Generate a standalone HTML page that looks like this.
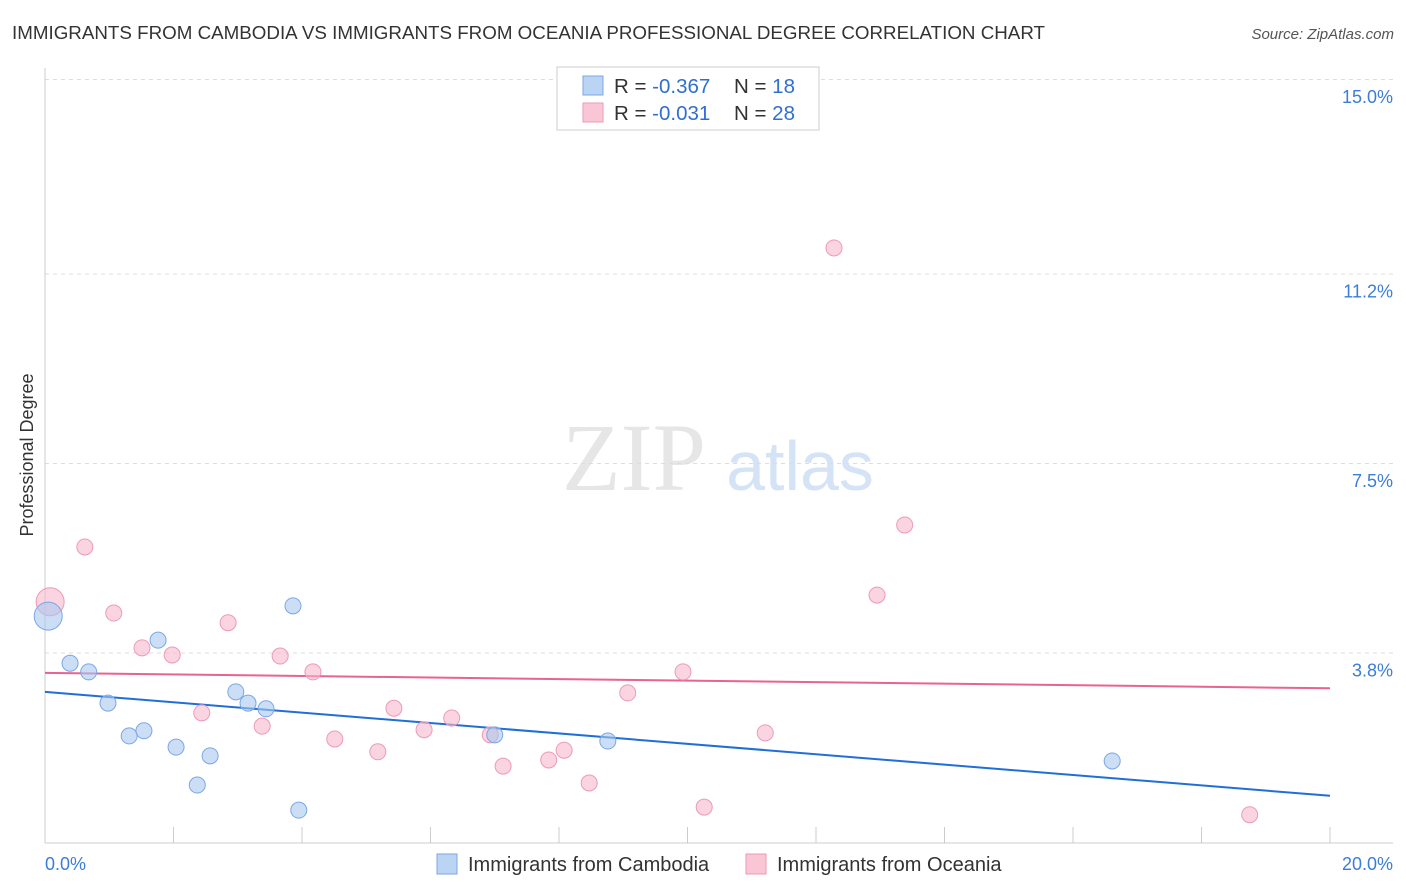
<!DOCTYPE html>
<html><head><meta charset="utf-8"><style>
body{margin:0;background:#fff;font-family:"Liberation Sans",sans-serif;}
svg{display:block}
</style></head><body>
<svg width="1406" height="892" xmlns="http://www.w3.org/2000/svg" id="chart">
<text x="12" y="39" font-size="18" fill="#333" textLength="1033" lengthAdjust="spacingAndGlyphs">IMMIGRANTS FROM CAMBODIA VS IMMIGRANTS FROM OCEANIA PROFESSIONAL DEGREE CORRELATION CHART</text>
<text x="1394" y="39" font-size="15" fill="#555" text-anchor="end" font-style="italic">Source: ZipAtlas.com</text>
<text x="634" y="490" font-size="96" fill="#e6e6e6" font-family="Liberation Serif,serif" text-anchor="middle">ZIP</text>
<text x="800" y="490" font-size="70" fill="#d4e3f6" text-anchor="middle">atlas</text>
<text transform="translate(33,455) rotate(-90)" font-size="18" fill="#333" text-anchor="middle">Professional Degree</text>
<g id="grid"></g><g id="axes"></g><g id="lines"></g><g id="points"></g>
<g>
<rect x="557" y="67" width="262" height="63" fill="#fff" stroke="#ccc"/>
<rect x="583" y="76" width="20" height="19" fill="#bcd4f4" stroke="#7aa7e6"/>
<rect x="583" y="103" width="20" height="19" fill="#f9c6d6" stroke="#ee9ab5"/>
<text x="614" y="93" font-size="20.5" fill="#333">R = <tspan fill="#2f6fd0">-0.367</tspan><tspan x="734">N = </tspan><tspan fill="#2f6fd0">18</tspan></text>
<text x="614" y="120" font-size="20.5" fill="#333">R = <tspan fill="#2f6fd0">-0.031</tspan><tspan x="734">N = </tspan><tspan fill="#2f6fd0">28</tspan></text>
</g>
<g>
<rect x="437" y="854" width="20" height="20" fill="#bcd4f4" stroke="#7aa7e6"/>
<text x="468" y="871" font-size="20" fill="#333">Immigrants from Cambodia</text>
<rect x="746" y="854" width="20" height="20" fill="#f9c6d6" stroke="#ee9ab5"/>
<text x="777" y="871" font-size="20" fill="#333">Immigrants from Oceania</text>
</g>
</svg>
<script>
const yTicks=[15.0,11.2,7.5,3.8];
const yTickLabels=["15.0%","11.2%","7.5%","3.8%"];
const xTickLabels=["0.0%","20.0%"];
const cambodiaX=[0.05,0.39,0.68,0.98,1.31,1.54,1.76,2.04,2.37,2.57,2.97,3.16,3.44,3.86,3.95,7.00,8.76,16.61];
const cambodiaY=[4.51,3.59,3.42,2.81,2.17,2.27,4.04,1.95,1.21,1.78,3.03,2.81,2.70,4.71,0.72,2.19,2.07,1.68];
const oceaniaX=[0.08,0.62,1.07,1.51,1.98,2.44,2.85,3.38,3.66,4.17,4.51,5.18,5.43,5.90,6.33,6.93,7.13,7.84,8.08,8.47,9.07,9.93,10.26,11.21,12.28,12.95,13.38,18.75];
const oceaniaY=[4.79,5.86,4.57,3.89,3.75,2.62,4.38,2.36,3.73,3.42,2.11,1.86,2.71,2.29,2.52,2.19,1.58,1.70,1.89,1.25,3.01,3.42,0.78,2.23,11.70,4.92,6.29,0.63];
const cambodiaTrend=[3.03,1.0];
const oceaniaTrend=[3.40,3.10];
const X0=45,X1=1330,YZ=847,PPU=51.2;
const sx=v=>X0+(v/20)*(X1-X0);
const sy=v=>YZ-v*PPU;
const NS="http://www.w3.org/2000/svg";
function mk(t,a,p){const e=document.createElementNS(NS,t);for(const k in a)e.setAttribute(k,a[k]);document.getElementById(p).appendChild(e);return e;}
yTicks.forEach((v,i)=>{
 const g=mk('line',{x1:45,x2:1393,y1:sy(v)+0.5,y2:sy(v)+0.5,stroke:'#ddd','stroke-dasharray':'4,4'},'grid');
 
 
 const t=mk('text',{x:1393,y:sy(v)+24,'font-size':18,fill:'#3b7dd8','text-anchor':'end'},'grid');
 t.textContent=yTickLabels[i];
 
 
});
const ax=mk('line',{x1:45,x2:45,y1:68,y2:843,stroke:'#ccc'},'axes');


const bx=mk('line',{x1:45,x2:1393,y1:843,y2:843,stroke:'#ccc'},'axes');


for(let i=0;i<=10;i++){
 const tk=mk('line',{x1:sx(i*2),x2:sx(i*2),y1:827,y2:843,stroke:'#ccc'},'axes');
 
 
}
const xl0=mk('text',{x:45,y:870,'font-size':18,fill:'#3b7dd8'},'axes');xl0.textContent=xTickLabels[0];


const xl1=mk('text',{x:1393,y:870,'font-size':18,fill:'#3b7dd8','text-anchor':'end'},'axes');xl1.textContent=xTickLabels[1];


function pts(xs,ys,fill,stroke,name){
 xs.forEach((x,i)=>{
  const r=(i===0)?14:8;
  const c=mk('circle',{cx:sx(x),cy:sy(ys[i]),r:r,fill:fill,'fill-opacity':0.6,stroke:stroke,'stroke-width':1},'points');
  
  
 });
}
pts(oceaniaX,oceaniaY,'#f6b8cc','#ee9ab5','oceania-point');
pts(cambodiaX,cambodiaY,'#a9c8f0','#7aa7e6','cambodia-point');
const l1=mk('line',{x1:sx(0),y1:sy(cambodiaTrend[0]),x2:sx(20),y2:sy(cambodiaTrend[1]),stroke:'#1f6fd6','stroke-width':2},'lines');


const l2=mk('line',{x1:sx(0),y1:sy(oceaniaTrend[0]),x2:sx(20),y2:sy(oceaniaTrend[1]),stroke:'#e8638e','stroke-width':2},'lines');


</script>
</body></html>
